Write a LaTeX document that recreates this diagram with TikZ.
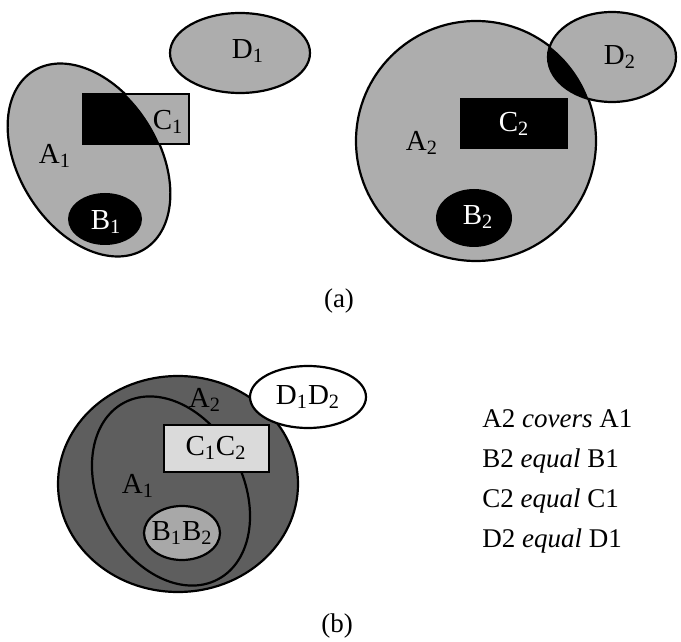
\documentclass[tikz,border=0pt]{standalone}
\usepackage{fontspec}
\setmainfont{Liberation Serif}
\usetikzlibrary{positioning}
\definecolor{SetGray}{HTML}{ADADAD}
\definecolor{SetDark}{HTML}{5E5E5E}
\definecolor{SetMid}{HTML}{A8A8A8}
\definecolor{SetLight}{HTML}{DADADA}

\begin{document}
\begin{tikzpicture}[
  x=0.5pt,y=-0.5pt,
  outl/.style={draw=black,line width=1.1pt},
  grayset/.style={outl,fill=SetGray},
  darkset/.style={outl,fill=SetDark},
  lbl/.style={font=\fontsize{14.5}{16}\selectfont,inner sep=0pt},
  wlbl/.style={lbl,text=white},
  note/.style={font=\fontsize{13.5}{15}\selectfont,anchor=base west,inner sep=0pt},
  capt/.style={font=\fontsize{13.5}{15}\selectfont,inner sep=0pt}
]
\useasboundingbox (0,0) rectangle (681,642);
% (a), first model
\draw[grayset] (240,53) ellipse [x radius=70,y radius=40];
\draw[grayset,rotate around={-58:(89,160)}] (89,160) ellipse [x radius=105,y radius=70];
\draw[grayset] (83,94) rectangle (189,144);
\begin{scope}
  \clip[rotate around={-58:(89,160)}] (89,160) ellipse [x radius=105,y radius=70];
  \fill (83,94) rectangle (189,144);
\end{scope}
\fill (105,219) ellipse [x radius=37,y radius=26];
\node[lbl] (la1) at (55,156) {A\textsubscript{1}};
\node[lbl] (lc1) at (168,122) {C\textsubscript{1}};
\node[lbl] (ld1) at (248,51) {D\textsubscript{1}};
\node[wlbl] (lb1) at (106,222) {B\textsubscript{1}};
% (a), second model
\draw[grayset] (476,141) circle [radius=120];
\draw[grayset] (612,57) ellipse [x radius=64,y radius=45];
\begin{scope}
  \clip (476,141) circle [radius=120];
  \fill (612,57) ellipse [x radius=64,y radius=45];
\end{scope}
\fill (460,98) rectangle (568,149);
\fill (474,218) ellipse [x radius=38,y radius=29];
\node[lbl] (la2) at (422,143) {A\textsubscript{2}};
\node[wlbl] (lc2) at (514,124) {C\textsubscript{2}};
\node[lbl] (ld2) at (620,57) {D\textsubscript{2}};
\node[wlbl] (lb2) at (478,217) {B\textsubscript{2}};
\node[capt] (capa) at (339,301) {(a)};
% (b), matched models
\draw[darkset] (178,484) ellipse [x radius=120,y radius=108];
\draw[darkset,rotate around={-62:(171,491)}] (171,491) ellipse [x radius=100,y radius=72];
\draw[outl,fill=SetLight] (164,425) rectangle (269,472);
\draw[outl,fill=SetMid] (182,533) ellipse [x radius=38,y radius=27];
\draw[outl,fill=white] (308,397) ellipse [x radius=58,y radius=31];
\node[lbl] (la12) at (205,400) {A\textsubscript{2}};
\node[lbl] (la11) at (138,486) {A\textsubscript{1}};
\node[lbl] (lcc) at (216,448) {C\textsubscript{1}C\textsubscript{2}};
\node[lbl] (lbb) at (182,533) {B\textsubscript{1}B\textsubscript{2}};
\node[lbl] (ldd) at (308,397) {D\textsubscript{1}D\textsubscript{2}};
\node[note] (ra) at (482,427) {A2 \textit{covers} A1};
\node[note] (rb) at (482,467) {B2 \textit{equal} B1};
\node[note] (rc) at (482,507) {C2 \textit{equal} C1};
\node[note] (rd) at (482,547) {D2 \textit{equal} D1};
\node[capt] (capb) at (337,626) {(b)};
\end{tikzpicture}
\end{document}
